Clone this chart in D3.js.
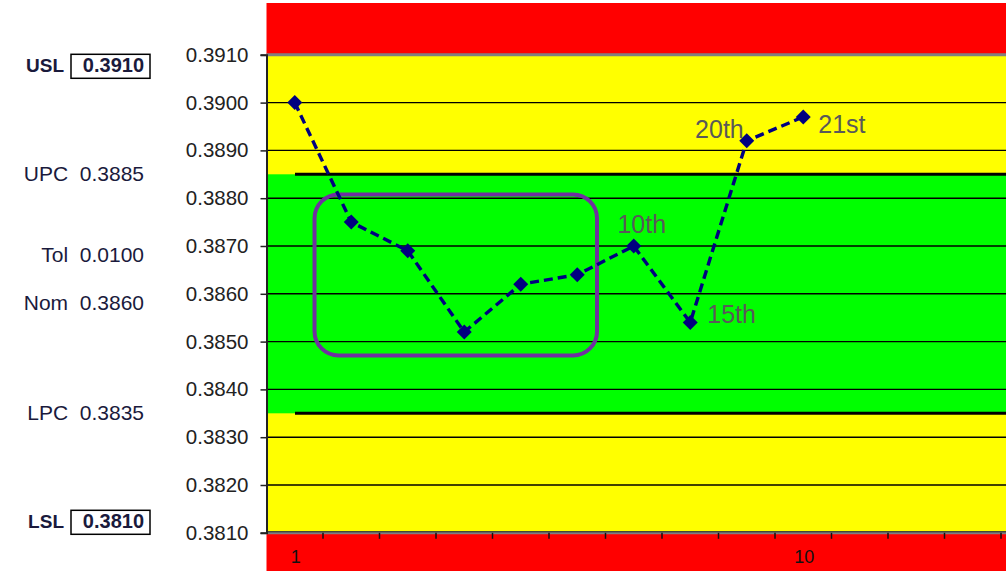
<!DOCTYPE html>
<html>
<head>
<meta charset="utf-8">
<script src="https://cdn.jsdelivr.net/npm/d3@7"></script>
<style>
  html, body { margin: 0; padding: 0; background: #fff; }
  svg { display: block; font-family: "Liberation Sans", Arial, sans-serif; }
</style>
</head>
<body>
<svg id="chart" width="1006" height="571"></svg>
<script>
// Measured sample values, plotted in sample order
const samples = [1, 2, 3, 4, 5, 6, 7, 8, 9, 10];
const values = [0.3900, 0.3875, 0.3869, 0.3852, 0.3862, 0.3864, 0.3870, 0.3854, 0.3892, 0.3897];

// Category slots along the x axis (chart continues past the right edge)
const slots = d3.range(1, 19);
const xTickLabels = [1, 10];

// Specification limits
const USL = 0.3910, LSL = 0.3810;
const UPC = 0.3885, LPC = 0.3835;
const NOM = 0.3860, TOL = 0.0100;
const yTicks = [0.3810, 0.3820, 0.3830, 0.3840, 0.3850, 0.3860, 0.3870, 0.3880, 0.3890, 0.3900, 0.3910];

// Callouts: which sample index they point at and the text shown
const callouts = [
  { idx: 6, text: "10th" },
  { idx: 7, text: "15th" },
  { idx: 8, text: "20th" },
  { idx: 9, text: "21st" }
];

// Highlighted run, expressed in slot units and values
const runBox = { from: 0.85, to: 5.85, top: 0.38808, bottom: 0.38471 };

const svg = d3.select("#chart");
const W = 1006, H = 571;
const left = 266.5, bandW = 56.5;

const x = d3.scaleBand().domain(slots).range([left, left + bandW * slots.length]).padding(0);
const xc = d => x(d) + x.bandwidth() / 2;
const y = d3.scaleLinear().domain([LSL, USL]).range([532.8, 54.8]);
const xSlot = u => left + u * x.bandwidth();

const plot = svg.append("g");

// Out-of-spec red zones above and below
plot.append("rect").attr("x", left).attr("y", 3).attr("width", W - left).attr("height", y(USL) - 3)
  .attr("fill", "#ff0000");
plot.append("rect").attr("x", left).attr("y", y(LSL)).attr("width", W - left).attr("height", H - y(LSL))
  .attr("fill", "#ff0000");
// Yellow warning zone between spec limits
plot.append("rect").attr("x", left).attr("y", y(USL)).attr("width", W - left).attr("height", y(LSL) - y(USL))
  .attr("fill", "#ffff00");
// Green zone between control limits
plot.append("rect").attr("x", left).attr("y", y(UPC)).attr("width", W - left).attr("height", y(LPC) - y(UPC))
  .attr("fill", "#00ff00");

// Horizontal grid lines
plot.append("g").selectAll("line").data(yTicks.filter(v => v !== USL && v !== LSL)).join("line")
  .attr("x1", left).attr("x2", W)
  .attr("y1", d => y(d)).attr("y2", d => y(d))
  .attr("stroke", "#000").attr("stroke-width", 1.4);

// Plot border lines at the spec limits
[USL, LSL].forEach(v => {
  plot.append("line").attr("x1", left).attr("x2", W).attr("y1", y(v)).attr("y2", y(v))
    .attr("stroke", "#808080").attr("stroke-width", 3);
});
plot.append("line").attr("x1", left).attr("x2", W).attr("y1", y(LSL) - 1).attr("y2", y(LSL) - 1)
  .attr("stroke", "#222").attr("stroke-width", 1);

// Control limit lines
[UPC, LPC].forEach(v => {
  plot.append("line").attr("x1", 295).attr("x2", W).attr("y1", y(v)).attr("y2", y(v))
    .attr("stroke", "#000").attr("stroke-width", 3);
});

// Y axis
const yAxis = d3.axisLeft(y).tickValues(yTicks).tickFormat(d3.format(".4f")).tickSize(6).tickPadding(12);
const gy = svg.append("g").attr("transform", `translate(${left},0)`).call(yAxis);
gy.select(".domain").attr("stroke", "#222").attr("stroke-width", 2);
gy.selectAll(".tick line").attr("stroke", "#222").attr("stroke-width", 1.5);
gy.selectAll(".tick text").attr("fill", "#222").attr("font-size", 20.5)
  .attr("font-family", "Liberation Sans, Arial, sans-serif");

// X axis with ticks between slots, labels only on selected slots
const gx = svg.append("g").attr("transform", `translate(0,${y(LSL)})`);
gx.selectAll("line").data(slots).join("line")
  .attr("x1", d => x(d) + x.bandwidth()).attr("x2", d => x(d) + x.bandwidth())
  .attr("y1", 0).attr("y2", 6).attr("stroke", "#111").attr("stroke-width", 1.5);
gx.selectAll("text").data(xTickLabels).join("text")
  .attr("x", d => xc(d) + 1).attr("y", 30)
  .attr("text-anchor", "middle").attr("font-size", 18).attr("fill", "#111")
  .text(d => d);

// Highlight box around a run of samples
plot.append("rect")
  .attr("x", xSlot(runBox.from)).attr("y", y(runBox.top))
  .attr("width", xSlot(runBox.to) - xSlot(runBox.from))
  .attr("height", y(runBox.bottom) - y(runBox.top))
  .attr("rx", 24).attr("ry", 24)
  .attr("fill", "none").attr("stroke", "#7030a0").attr("stroke-width", 4);

// Dashed series line
const pts = samples.map((s, i) => ({ s, v: values[i] }));
plot.append("path").datum(pts)
  .attr("d", d3.line().x(d => xc(d.s)).y(d => y(d.v)))
  .attr("fill", "none").attr("stroke", "#000080").attr("stroke-width", 3.4)
  .attr("stroke-dasharray", "9,5");

// Diamond markers
plot.append("g").selectAll("path").data(pts).join("path")
  .attr("d", d3.symbol(d3.symbolSquare, 112))
  .attr("transform", d => `translate(${xc(d.s)},${y(d.v)}) rotate(45)`)
  .attr("fill", "#000080");

// Callout labels
const offsets = {
  "10th": { dx: 8, dy: -13, anchor: "middle" },
  "15th": { dx: 17, dy: 1, anchor: "start" },
  "20th": { dx: -3, dy: -3, anchor: "end" },
  "21st": { dx: 15, dy: 16, anchor: "start" }
};
plot.append("g").selectAll("text").data(callouts).join("text")
  .attr("x", d => xc(samples[d.idx]) + offsets[d.text].dx)
  .attr("y", d => y(values[d.idx]) + offsets[d.text].dy)
  .attr("text-anchor", d => offsets[d.text].anchor)
  .attr("font-size", 25).attr("fill", "#595959")
  .text(d => d.text);

// Left-hand specification panel
const panel = svg.append("g").attr("fill", "#1a1a3c").attr("font-size", 21);
const rows = [
  { name: "USL", value: USL, boxed: true, yPos: y(USL) + 17 },
  { name: "UPC", value: UPC, boxed: false, yPos: y(UPC) + 7 },
  { name: "Tol", value: TOL, boxed: false, yPos: 262 },
  { name: "Nom", value: NOM, boxed: false, yPos: 310 },
  { name: "LPC", value: LPC, boxed: false, yPos: y(LPC) + 7 },
  { name: "LSL", value: LSL, boxed: true, yPos: y(LSL) - 5 }
];
rows.forEach(r => {
  const g = panel.append("g");
  if (r.boxed) {
    g.append("text").attr("x", 64).attr("y", r.yPos).attr("text-anchor", "end")
      .attr("font-weight", "bold").attr("font-size", 19).text(r.name);
    g.append("rect").attr("x", 71).attr("y", r.yPos - 17.5).attr("width", 79).attr("height", 24)
      .attr("fill", "none").attr("stroke", "#000").attr("stroke-width", 1.5);
    g.append("text").attr("x", 144).attr("y", r.yPos).attr("text-anchor", "end")
      .attr("font-weight", "bold").attr("font-size", 20).text(d3.format(".4f")(r.value));
  } else {
    g.append("text").attr("x", 144).attr("y", r.yPos).attr("text-anchor", "end")
      .text(r.name + "\u00a0\u00a0" + d3.format(".4f")(r.value));
  }
});
</script>
</body>
</html>
